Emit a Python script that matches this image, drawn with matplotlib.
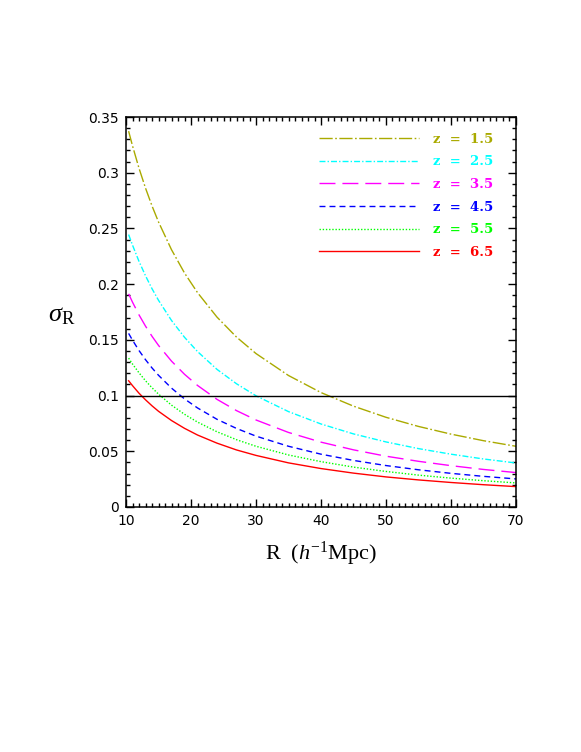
import matplotlib
matplotlib.use("Agg")
import matplotlib.pyplot as plt
from matplotlib.ticker import FixedLocator, FixedFormatter, MultipleLocator

plt.rcParams['mathtext.fontset'] = 'custom'
plt.rcParams['mathtext.rm'] = 'Liberation Serif'
plt.rcParams['mathtext.it'] = 'Liberation Serif:italic'

# ---- data ----
R = [10.4, 11, 12, 13, 14, 15, 17, 19, 21, 24, 27, 30, 35, 40, 45, 50, 55, 60, 65, 70]
sig_z15 = [0.3373, 0.3241, 0.3040, 0.2862, 0.2702, 0.2558, 0.2309, 0.2100, 0.1924, 0.1704,
           0.1525, 0.1377, 0.1180, 0.1027, 0.0905, 0.0805, 0.0723, 0.0654, 0.0595, 0.0545]
sig_z25 = [0.2445, 0.2350, 0.2204, 0.2075, 0.1959, 0.1855, 0.1674, 0.1523, 0.1395, 0.1235,
           0.1106, 0.0998, 0.0856, 0.0745, 0.0656, 0.0584, 0.0524, 0.0474, 0.0431, 0.0395]
sig_z35 = [0.1913, 0.1838, 0.1724, 0.1623, 0.1532, 0.1450, 0.1309, 0.1191, 0.1091, 0.0966,
           0.0865, 0.0781, 0.0669, 0.0582, 0.0513, 0.0456, 0.0410, 0.0371, 0.0337, 0.0309]
sig_z45 = [0.1558, 0.1497, 0.1404, 0.1322, 0.1248, 0.1182, 0.1067, 0.0970, 0.0889, 0.0787,
           0.0705, 0.0636, 0.0545, 0.0474, 0.0418, 0.0372, 0.0334, 0.0302, 0.0275, 0.0252]
sig_z55 = [0.1336, 0.1283, 0.1204, 0.1133, 0.1070, 0.1013, 0.0914, 0.0832, 0.0762, 0.0675,
           0.0604, 0.0545, 0.0467, 0.0407, 0.0358, 0.0319, 0.0286, 0.0259, 0.0236, 0.0216]
sig_z65 = [0.1133, 0.1089, 0.1021, 0.0962, 0.0908, 0.0859, 0.0776, 0.0706, 0.0646, 0.0573,
           0.0512, 0.0463, 0.0396, 0.0345, 0.0304, 0.0270, 0.0243, 0.0220, 0.0200, 0.0183]
threshold = 0.1
series = [sig_z15, sig_z25, sig_z35, sig_z45, sig_z55, sig_z65]
labels = ["z  =  1.5", "z  =  2.5", "z  =  3.5", "z  =  4.5", "z  =  5.5", "z  =  6.5"]

x_ticks = [10, 20, 30, 40, 50, 60, 70]
x_ticklabels = ["10", "20", "30", "40", "50", "60", "70"]
y_ticks = [0, 0.05, 0.1, 0.15, 0.2, 0.25, 0.3, 0.35]
y_ticklabels = ["0", "0.05", "0.1", "0.15", "0.2", "0.25", "0.3", "0.35"]

# ---- styles ----
colors = ['#aaaa00', '#00ffff', '#ff00ff', '#0000ff', '#00ff00', '#ff0000']
dashes = [(9.5, 1.8, 1.2, 1.8), (4.3, 1.5, 1.0, 1.5), (11.5, 5.0), (4.3, 2.9), (1.0, 1.3), None]

fig = plt.figure(figsize=(5.81, 7.52), dpi=100)
ax = fig.add_axes([0.2169, 0.3258, 0.6712, 0.5186])

for s, c, d, lab in zip(series, colors, dashes, labels):
    line, = ax.plot(R, s, color=c, lw=1.0, label=lab)
    if d is not None:
        line.set_dashes(d)

ax.axhline(threshold, color='black', lw=1.0)

ax.set_xlim(10, 70)
ax.set_ylim(0, 0.35)
ax.xaxis.set_major_locator(FixedLocator(x_ticks))
ax.xaxis.set_major_formatter(FixedFormatter(x_ticklabels))
ax.yaxis.set_major_locator(FixedLocator(y_ticks))
ax.yaxis.set_major_formatter(FixedFormatter(y_ticklabels))
ax.xaxis.set_minor_locator(MultipleLocator(1))
ax.yaxis.set_minor_locator(MultipleLocator(0.01))
ax.tick_params(which='both', direction='in', top=True, right=True, width=1.0)
ax.tick_params(which='major', length=5.5, pad=5, labelsize=10)
ax.tick_params(which='minor', length=3)
for sp in ax.spines.values():
    sp.set_linewidth(1.1)

ax.set_xlabel(r'R  $(h^{-1}$Mpc$)$', fontsize=16, family='Liberation Serif')
ax.xaxis.set_label_coords(0.50, -0.085)
ax.set_ylabel(r'$\sigma_{\mathrm{R}}$', fontsize=19, rotation=0)
ax.yaxis.set_label_coords(-0.166, 0.4615)

leg = ax.legend(loc='upper right', bbox_to_anchor=(0.956, 0.973), borderaxespad=0,
                frameon=False, handlelength=7.6, handletextpad=1.05,
                labelspacing=0.73, labelcolor='linecolor',
                prop={'family': 'DejaVu Serif', 'weight': 'bold', 'size': 9.5})

fig.savefig('out.png', dpi=100)
